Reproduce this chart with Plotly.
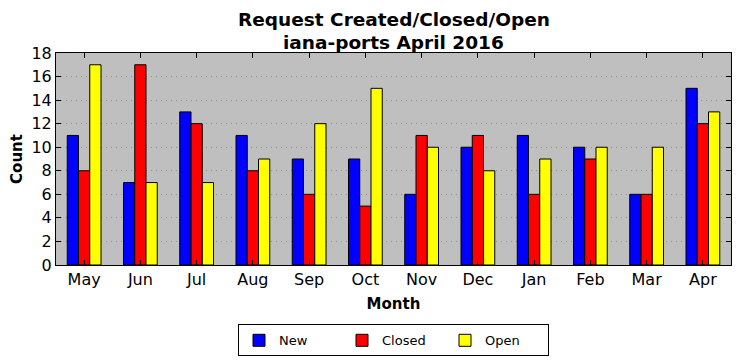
import plotly.graph_objects as go

months = ["May", "Jun", "Jul", "Aug", "Sep", "Oct", "Nov", "Dec", "Jan", "Feb", "Mar", "Apr"]
new_vals = [11, 7, 13, 11, 9, 9, 6, 10, 11, 10, 6, 15]
closed_vals = [8, 17, 12, 8, 6, 5, 11, 11, 6, 9, 6, 12]
open_vals = [17, 7, 7, 9, 12, 15, 10, 8, 9, 10, 10, 13]
y_ticks = list(range(0, 19, 2))
title_lines = ["Request Created/Closed/Open", "iana-ports April 2016"]

series = [("New", new_vals, "#0000ff"), ("Closed", closed_vals, "#ff0000"), ("Open", open_vals, "#ffff00")]

fig = go.Figure()
for name, vals, color in series:
    fig.add_trace(go.Bar(x=months, y=vals, name=name,
                         marker=dict(color=color, line=dict(color="black", width=1))))

font = "DejaVu Sans"
plot_h = 361 - 45 - 104
title_ann = []
for i, line in enumerate(title_lines):
    center_px = 12 + 22 * i  # distance from top of figure
    title_ann.append(dict(text="<b>" + line + "</b>", x=0.5, xref="paper",
                          y=1 + (45 - center_px) / plot_h, yref="paper",
                          xanchor="center", yanchor="middle", showarrow=False, borderpad=0,
                          font=dict(family=font, size=18.5)))

fig.update_layout(
    width=740, height=361,
    margin=dict(l=48, r=17, t=45, b=104, autoexpand=False),
    paper_bgcolor="white", plot_bgcolor="#bfbfbf",
    barmode="group", bargap=0.4, bargroupgap=0,
    font=dict(family=font, color="black", size=12),
    legend=dict(orientation="h", x=0.5, xanchor="center", y=-0.28, yanchor="top",
                bordercolor="black", borderwidth=1, font=dict(size=13),
                itemwidth=30, entrywidth=58, tracegroupgap=0),
    showlegend=True,
    annotations=title_ann,
)
fig.update_xaxes(
    range=[-0.5, 11.5], showline=True, linecolor="black", linewidth=1, mirror="ticks",
    ticks="inside", ticklen=5, tickcolor="black", showgrid=False, automargin=False,
    tickfont=dict(size=16),
    title=dict(text="<b>Month</b>", font=dict(size=15), standoff=10),
)
fig.update_yaxes(
    range=[0, 18], tickvals=y_ticks, showline=True, linecolor="black", linewidth=1, mirror="ticks",
    ticks="inside", ticklen=5, tickcolor="black", automargin=False,
    showgrid=True, gridcolor="#8f8f8f", griddash="1px,4px", gridwidth=1, zeroline=False,
    tickfont=dict(size=16),
    title=dict(text="<b>Count</b>", font=dict(size=15), standoff=6),
)
fig.write_html("out.html")
